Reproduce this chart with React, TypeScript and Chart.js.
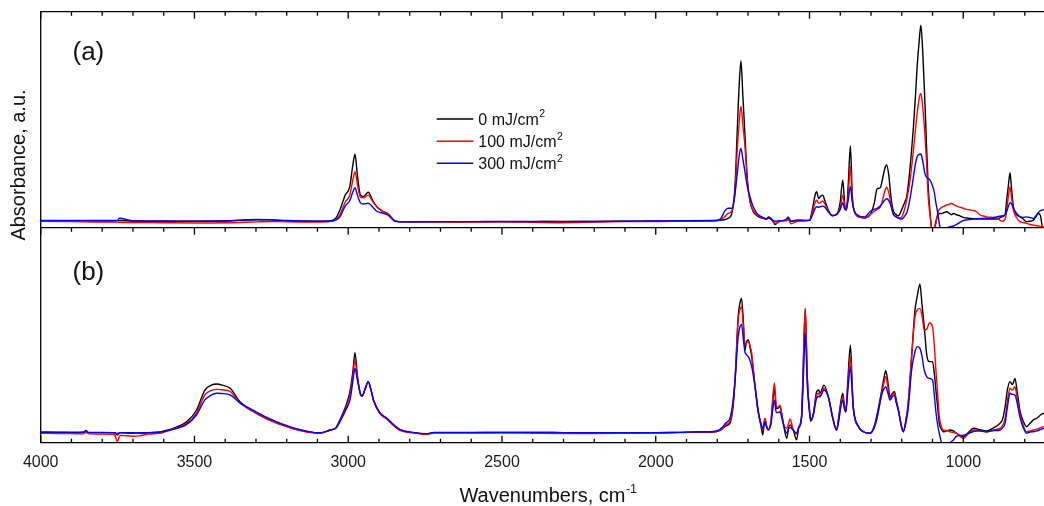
import React, { useEffect, useRef } from "react";
import { Chart, registerables } from "chart.js";
Chart.register(...registerables);

const FONT = '"Liberation Sans", Arial, sans-serif';
const X_MIN = 737.5;
const X_MAX = 4000;

const majorTicks = [1000, 1500, 2000, 2500, 3000, 3500, 4000];
const minorTicks = [800, 900, 1100, 1200, 1300, 1400, 1600, 1700, 1800, 1900, 2100, 2200, 2300, 2400, 2600, 2700, 2800, 2900, 3100, 3200, 3300, 3400, 3600, 3700, 3800, 3900];

const seriesLabels = ["0 mJ/cm", "100 mJ/cm", "300 mJ/cm"];
const seriesColors = ["#000000", "#ff0000", "#0000ff"];

// Panel (a)
const wnA = [
  4000, 3900, 3800, 3750, 3744, 3700, 3600, 3500, 3400, 3300,
  3250, 3200, 3100, 3060, 3040, 3027, 3010, 2995, 2985, 2978,
  2970, 2960, 2950, 2935, 2920, 2907, 2890, 2870, 2848, 2820,
  2700, 2600, 2500, 2400, 2300, 2200, 2100, 2000, 1900, 1813,
  1790, 1775, 1765, 1752, 1742, 1735, 1728, 1723, 1717, 1710,
  1702, 1693, 1683, 1670, 1655, 1640, 1633, 1620, 1612, 1595,
  1575, 1570, 1560, 1540, 1520, 1500, 1490, 1482, 1477, 1470,
  1464, 1457, 1450, 1440, 1425, 1410, 1400, 1392, 1385, 1380,
  1374, 1367, 1361, 1355, 1340, 1320, 1303, 1290, 1280, 1270,
  1262, 1255, 1249, 1242, 1235, 1228, 1218, 1211, 1200, 1190,
  1184, 1175, 1168, 1162, 1155, 1150, 1143, 1138, 1132, 1125,
  1120, 1114, 1108, 1103, 1095, 1089, 1082, 1077, 1070, 1065,
  1054, 1043, 1038, 1032, 1022, 1011, 1000, 989, 978, 967,
  957, 946, 935, 924, 902, 892, 881, 875, 864, 859,
  853, 848, 843, 837, 826, 816, 805, 794, 783, 772,
  764, 756, 748, 742, 738,
];
const blackA = [
  .032, .032, .031, .032, .033, .031, .030, .030, .031, .037,
  .036, .032, .030, .031, .045, .082, .150, .190, .290, .340,
  .240, .150, .145, .164, .125, .097, .078, .063, .032, .027,
  .027, .028, .028, .028, .029, .029, .030, .031, .032, .032,
  .034, .038, .043, .070, .200, .450, .680, .772, .620, .430,
  .220, .120, .074, .055, .045, .042, .050, .035, .015, .032,
  .034, .045, .030, .032, .032, .034, .090, .150, .167, .135,
  .145, .151, .125, .085, .055, .065, .120, .221, .100, .080,
  .200, .380, .150, .080, .050, .045, .060, .110, .180, .185,
  .230, .275, .290, .240, .140, .080, .060, .055, .085, .120,
  .143, .250, .360, .468, .620, .745, .870, .938, .820, .591,
  .400, .190, .070, -.005, -.010, .030, .060, .066, .066, .068,
  .074, .064, .060, .066, .060, .055, .048, .045, .043, .042,
  .040, .040, .040, .040, .040, .040, .045, .050, .060, .128,
  .200, .255, .180, .097, .060, .051, .040, .028, .030, .035,
  .050, .066, .050, -.011, -.020,
];
const redA = [
  .030, .028, .026, .026, .025, .024, .023, .022, .023, .027,
  .029, .027, .026, .028, .038, .059, .118, .150, .220, .259,
  .200, .140, .138, .151, .120, .097, .078, .063, .032, .027,
  .027, .026, .027, .025, .023, .026, .028, .029, .031, .032,
  .036, .052, .066, .080, .170, .360, .500, .563, .480, .380,
  .210, .120, .080, .058, .047, .040, .048, .030, .020, .030,
  .033, .040, .018, .030, .032, .034, .075, .115, .128, .112,
  .118, .124, .110, .080, .055, .062, .095, .151, .095, .080,
  .160, .282, .130, .080, .050, .045, .060, .075, .085, .095,
  .130, .170, .187, .160, .110, .065, .050, .045, .050, .090,
  .128, .200, .280, .360, .460, .529, .600, .622, .560, .437,
  .320, .144, .060, .000, -.010, .020, .074, .085, .094, .098,
  .105, .110, .112, .108, .100, .095, .090, .085, .082, .080,
  .075, .060, .054, .050, .048, .045, .035, .030, .040, .080,
  .150, .190, .140, .082, .045, .028, .024, .020, .015, .012,
  .010, .008, .006, .005, .004,
];
const blueA = [
  .034, .033, .033, .034, .044, .032, .031, .030, .032, .038,
  .037, .033, .030, .030, .036, .050, .100, .125, .165, .185,
  .150, .115, .110, .113, .095, .076, .068, .058, .030, .027,
  .028, .028, .029, .029, .028, .029, .030, .031, .032, .033,
  .040, .078, .090, .090, .160, .250, .340, .367, .320, .260,
  .190, .140, .097, .065, .050, .040, .045, .035, .030, .032,
  .040, .050, .030, .036, .035, .034, .060, .088, .097, .095,
  .098, .100, .095, .075, .057, .065, .085, .116, .085, .090,
  .130, .190, .120, .080, .055, .050, .075, .085, .090, .100,
  .115, .128, .134, .125, .100, .065, .050, .045, .040, .055,
  .068, .120, .180, .236, .300, .329, .340, .341, .310, .252,
  .235, .228, .220, .205, .170, .115, .060, .012, -.008, -.011,
  -.002, .005, .006, .008, .015, .025, .033, .036, .038, .040,
  .042, .043, .043, .044, .046, .050, .053, .055, .060, .075,
  .100, .116, .110, .090, .066, .051, .048, .050, .048, .043,
  .055, .070, .080, .082, .085,
];

// Panel (b)
const wnB = [
  4000, 3950, 3900, 3860, 3853, 3845, 3800, 3760, 3751, 3742,
  3700, 3680, 3650, 3612, 3601, 3569, 3525, 3493, 3466, 3445,
  3428, 3410, 3384, 3352, 3308, 3265, 3211, 3157, 3110, 3092,
  3059, 3040, 3027, 3005, 2994, 2985, 2978, 2970, 2960, 2955,
  2945, 2935, 2925, 2918, 2897, 2875, 2853, 2832, 2790, 2745,
  2720, 2600, 2500, 2400, 2300, 2200, 2100, 2000, 1921, 1850,
  1813, 1791, 1770, 1759, 1750, 1742, 1732, 1726, 1721, 1715,
  1710, 1705, 1699, 1693, 1688, 1677, 1667, 1658, 1652, 1645,
  1640, 1634, 1625, 1620, 1614, 1608, 1602, 1596, 1590, 1585,
  1574, 1568, 1563, 1553, 1542, 1535, 1526, 1520, 1514, 1507,
  1500, 1496, 1488, 1477, 1470, 1466, 1453, 1439, 1423, 1412,
  1405, 1399, 1392, 1387, 1382, 1375, 1367, 1362, 1358, 1341,
  1325, 1303, 1290, 1282, 1265, 1258, 1252, 1245, 1238, 1230,
  1224, 1218, 1211, 1203, 1195, 1187, 1179, 1168, 1157, 1150,
  1141, 1134, 1127, 1118, 1110, 1100, 1094, 1089, 1083, 1078,
  1070, 1065, 1055, 1043, 1032, 1022, 1000, 985, 967, 945,
  924, 900, 881, 872, 864, 856, 848, 840, 832, 824,
  816, 805, 794, 783, 772, 760, 748, 738,
];
const blackB = [
  .048, .048, .047, .048, .056, .047, .046, .046, .036, .046,
  .044, .045, .046, .050, .054, .067, .098, .152, .245, .268,
  .273, .268, .253, .190, .144, .113, .082, .059, .047, .045,
  .059, .070, .106, .183, .240, .330, .419, .310, .225, .217,
  .250, .284, .240, .199, .137, .113, .082, .059, .047, .040,
  .048, .048, .048, .048, .047, .046, .046, .046, .048, .050,
  .050, .057, .080, .090, .150, .292, .586, .650, .671, .560,
  .431, .470, .478, .440, .400, .261, .144, .080, .036, .113,
  .080, .059, .100, .180, .253, .160, .160, .170, .130, .090,
  .020, .070, .082, .059, .013, .070, .121, .369, .622, .292,
  .150, .100, .129, .237, .245, .230, .268, .214, .106, .059,
  .120, .183, .230, .180, .144, .300, .454, .300, .168, .075,
  .051, .044, .075, .120, .245, .300, .335, .280, .214, .230,
  .237, .200, .152, .090, .051, .100, .183, .400, .617, .679,
  .737, .640, .540, .400, .377, .377, .320, .245, .160, .090,
  .060, .051, .055, .059, .055, .044, .028, .045, .067, .060,
  .055, .070, .090, .110, .168, .250, .284, .270, .299, .230,
  .152, .100, .075, .090, .106, .115, .130, .137,
];
const redB = [
  .044, .043, .042, .041, .048, .042, .040, .038, .005, .034,
  .030, .032, .040, .044, .048, .063, .090, .138, .222, .243,
  .248, .246, .238, .185, .144, .110, .080, .056, .045, .044,
  .059, .068, .100, .170, .225, .310, .385, .300, .225, .217,
  .250, .284, .240, .199, .135, .110, .080, .057, .046, .040,
  .045, .045, .045, .044, .043, .043, .044, .045, .047, .050,
  .050, .058, .085, .098, .160, .300, .570, .620, .633, .540,
  .454, .465, .470, .450, .416, .261, .144, .085, .060, .113,
  .075, .059, .110, .200, .279, .170, .165, .175, .130, .090,
  .067, .090, .110, .060, .040, .075, .121, .380, .625, .300,
  .150, .106, .129, .222, .230, .214, .253, .214, .106, .059,
  .110, .170, .214, .170, .144, .270, .400, .280, .168, .075,
  .051, .044, .070, .106, .230, .280, .307, .260, .206, .225,
  .230, .190, .152, .090, .051, .100, .183, .400, .586, .617,
  .625, .590, .524, .530, .558, .540, .450, .338, .220, .121,
  .070, .059, .057, .051, .048, .044, .020, .040, .059, .055,
  .050, .060, .067, .080, .113, .200, .253, .245, .260, .200,
  .140, .080, .051, .055, .059, .063, .070, .075,
];
const blueB = [
  .050, .049, .049, .050, .057, .048, .048, .047, .043, .047,
  .046, .045, .047, .050, .052, .062, .085, .130, .199, .222,
  .230, .229, .222, .185, .150, .118, .085, .060, .047, .046,
  .059, .068, .098, .160, .200, .285, .346, .290, .225, .217,
  .250, .284, .240, .199, .140, .115, .085, .062, .048, .042,
  .047, .047, .048, .048, .047, .046, .046, .047, .048, .051,
  .052, .062, .095, .113, .180, .292, .493, .540, .550, .480,
  .423, .410, .400, .380, .354, .261, .150, .090, .067, .098,
  .075, .062, .090, .150, .198, .140, .140, .144, .115, .085,
  .044, .065, .070, .059, .044, .070, .110, .300, .509, .260,
  .140, .106, .129, .206, .215, .214, .245, .214, .106, .059,
  .100, .160, .198, .160, .144, .250, .354, .260, .168, .075,
  .051, .044, .068, .106, .225, .250, .261, .230, .198, .215,
  .222, .185, .152, .090, .051, .090, .160, .338, .423, .447,
  .439, .400, .338, .305, .299, .291, .220, .144, .080, .044,
  -.005, -.020, -.015, .000, .013, .030, .035, .042, .052, .055,
  .051, .056, .059, .070, .090, .170, .230, .225, .222, .180,
  .120, .070, .044, .050, .051, .055, .062, .067,
];

const W = 1044;
const H = 506;
const PLOT_LEFT = 40.7;
const A_TOP = 11.7;
const MID = 227.7;
const B_BOTTOM = 442.7;

function makeDatasets(wn: number[], series: number[][]) {
  return series.map((vals, i) => ({
    label: seriesLabels[i],
    data: wn.map((x, j) => ({ x, y: vals[j] })),
    borderColor: seriesColors[i],
    backgroundColor: seriesColors[i],
    borderWidth: 1.4,
    pointRadius: 0,
    cubicInterpolationMode: "monotone" as const,
    order: 2 - i,
  }));
}

function drawTicks(ctx: CanvasRenderingContext2D, scale: any, y: number, dir: number) {
  ctx.beginPath();
  for (const v of majorTicks) {
    const x = scale.getPixelForValue(v);
    ctx.moveTo(x, y);
    ctx.lineTo(x, y + dir * 7);
  }
  for (const v of minorTicks) {
    const x = scale.getPixelForValue(v);
    ctx.moveTo(x, y);
    ctx.lineTo(x, y + dir * 4);
  }
  ctx.stroke();
}

function textWithSup(ctx: CanvasRenderingContext2D, x: number, y: number, main: string, sup: string, size: number, supSize: number, rise: number) {
  ctx.font = `${size}px ${FONT}`;
  ctx.fillText(main, x, y);
  const w = ctx.measureText(main).width;
  ctx.font = `${supSize}px ${FONT}`;
  ctx.fillText(sup, x + w + 0.5, y - rise);
}

const panelAPlugin = {
  id: "panelA",
  afterDraw(chart: any) {
    const ctx: CanvasRenderingContext2D = chart.ctx;
    const { left, top, bottom } = chart.chartArea;
    const xs = chart.scales.x;
    ctx.save();
    ctx.strokeStyle = "#000";
    ctx.lineWidth = 1.3;
    ctx.beginPath();
    ctx.moveTo(left, bottom);
    ctx.lineTo(left, top);
    ctx.lineTo(W, top);
    ctx.stroke();
    drawTicks(ctx, xs, top, 1);

    ctx.fillStyle = "#111";
    ctx.textAlign = "left";
    ctx.textBaseline = "alphabetic";
    ctx.font = `26px ${FONT}`;
    ctx.fillText("(a)", 72.5, 59.5);

    // legend
    const rows = [119, 141.3, 163.3];
    rows.forEach((ry, i) => {
      ctx.strokeStyle = seriesColors[i];
      ctx.lineWidth = 1.4;
      ctx.beginPath();
      ctx.moveTo(436.7, ry);
      ctx.lineTo(473.3, ry);
      ctx.stroke();
      ctx.fillStyle = "#111";
      textWithSup(ctx, 478.3, ry + 5.8, seriesLabels[i], "2", 16, 10.5, 7.5);
    });
    ctx.restore();
  },
};

const panelBPlugin = {
  id: "panelB",
  afterDraw(chart: any) {
    const ctx: CanvasRenderingContext2D = chart.ctx;
    const { left, top, bottom } = chart.chartArea;
    const xs = chart.scales.x;
    ctx.save();
    ctx.strokeStyle = "#000";
    ctx.lineWidth = 1.3;
    ctx.beginPath();
    ctx.moveTo(W, top);
    ctx.lineTo(left, top);
    ctx.lineTo(left, bottom);
    ctx.lineTo(W, bottom);
    ctx.stroke();
    drawTicks(ctx, xs, top, 1);
    drawTicks(ctx, xs, bottom, -1);

    ctx.fillStyle = "#111";
    ctx.textAlign = "left";
    ctx.textBaseline = "alphabetic";
    ctx.font = `26px ${FONT}`;
    ctx.fillText("(b)", 72.5, 280);

    // x title (centred on the full axis)
    const size = 20;
    const supSize = 12.5;
    ctx.font = `${size}px ${FONT}`;
    const wMain = ctx.measureText("Wavenumbers, cm").width;
    ctx.font = `${supSize}px ${FONT}`;
    const wSup = ctx.measureText("-1").width;
    const startX = 548 - (wMain + wSup) / 2;
    textWithSup(ctx, startX, 502, "Wavenumbers, cm", "-1", size, supSize, 9.5);

    // y title
    ctx.translate(25, 165);
    ctx.rotate(-Math.PI / 2);
    ctx.font = `20px ${FONT}`;
    ctx.textAlign = "center";
    ctx.fillText("Absorbance, a.u.", 0, 0);
    ctx.restore();
  },
};

export default function App() {
  const refA = useRef<HTMLCanvasElement>(null);
  const refB = useRef<HTMLCanvasElement>(null);

  useEffect(() => {
    document.body.style.margin = "0";
    const chartA = new Chart(refA.current!, {
      type: "line",
      data: { datasets: makeDatasets(wnA, [blackA, redA, blueA]) as any },
      options: {
        responsive: false,
        animation: false,
        events: [],
        layout: { padding: { left: PLOT_LEFT, top: A_TOP, right: 0, bottom: H - MID } },
        plugins: { legend: { display: false }, tooltip: { enabled: false } },
        scales: {
          x: { type: "linear", reverse: true, min: X_MIN, max: X_MAX, display: false },
          y: { type: "linear", min: 0, max: 1, display: false },
        },
      },
      plugins: [panelAPlugin],
    });
    const chartB = new Chart(refB.current!, {
      type: "line",
      data: { datasets: makeDatasets(wnB, [blackB, redB, blueB]) as any },
      options: {
        responsive: false,
        animation: false,
        events: [],
        layout: { padding: { left: PLOT_LEFT, top: MID, right: 0, bottom: 0 } },
        plugins: { legend: { display: false }, tooltip: { enabled: false } },
        scales: {
          x: {
            type: "linear",
            position: "bottom",
            reverse: true,
            min: X_MIN,
            max: X_MAX,
            grid: { display: false, drawTicks: false },
            border: { display: false },
            afterBuildTicks: (s: any) => {
              s.ticks = majorTicks.map((v) => ({ value: v }));
            },
            afterFit: (s: any) => {
              s.height = H - B_BOTTOM;
            },
            ticks: {
              autoSkip: false,
              maxRotation: 0,
              minRotation: 0,
              padding: 10,
              color: "#1a1a1a",
              font: { family: FONT, size: 16 },
              callback: (v: any) => String(v),
            },
          },
          y: { type: "linear", min: 0, max: 1, display: false },
        },
      },
      plugins: [panelBPlugin],
    });
    return () => {
      chartA.destroy();
      chartB.destroy();
    };
  }, []);

  return (
    <div style={{ position: "relative", width: W, height: H, background: "#fff" }}>
      <canvas ref={refA} width={W} height={H} style={{ position: "absolute", left: 0, top: 0 }} />
      <canvas ref={refB} width={W} height={H} style={{ position: "absolute", left: 0, top: 0 }} />
    </div>
  );
}
